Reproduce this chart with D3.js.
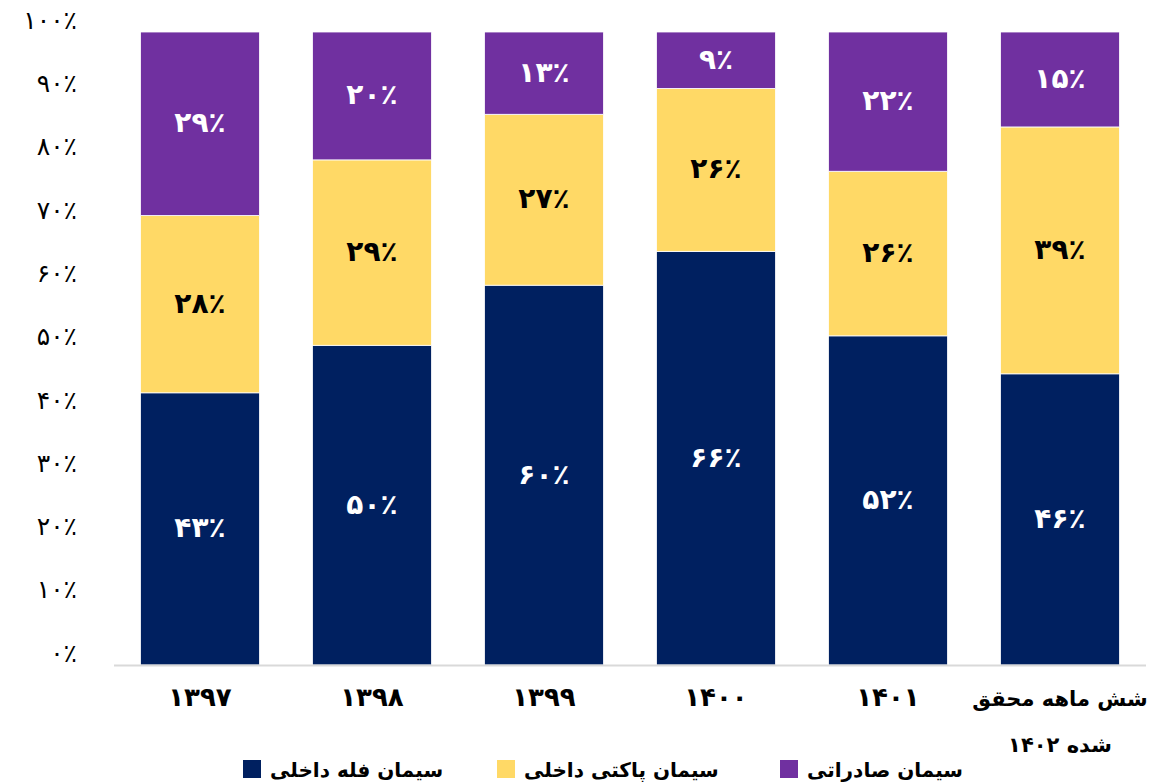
<!DOCTYPE html>
<html lang="fa">
<head>
<meta charset="utf-8">
<title>سهم سیمان</title>
<script src="https://d3js.org/d3.v7.min.js"></script>
<style>
  body { margin: 0; background: #fff; }
  text { font-family: "DejaVu Sans", sans-serif; }
</style>
</head>
<body>
<div id="chart"></div>
<script>
(function () {
    var categories = ["1397", "1398", "1399", "1400", "1401", "شش ماهه محقق\nشده 1402"];
    var seriesNames = ["سیمان فله داخلی", "سیمان پاکتی داخلی", "سیمان صادراتی"];
    var bulkDomestic = [43, 50, 60, 66, 52, 46];
    var bagDomestic = [28, 29, 27, 26, 26, 39];
    var exportCement = [29, 20, 13, 9, 22, 15];
    var yTicks = [0, 10, 20, 30, 40, 50, 60, 70, 80, 90, 100];
    var colors = ["#002060", "#FFD966", "#7030A0"];
    var labelColors = ["#fff", "#000", "#fff"];

    var width = 1159, height = 782;
    var top = 32, bottom = 665;

    // digits to Persian
    function fa(s) {
        return String(s).replace(/\d/g, function (d) { return "۰۱۲۳۴۵۶۷۸۹"[+d]; });
    }

    var rows = categories.map(function (c, i) {
        var t = bulkDomestic[i] + bagDomestic[i] + exportCement[i];
        return { cat: c, s0: bulkDomestic[i], s1: bagDomestic[i], s2: exportCement[i], total: t };
    });

    var stack = d3.stack()
        .keys(["s0", "s1", "s2"])
        .value(function (d, k) { return d[k] / d.total * 100; });
    var layers = stack(rows);

    var x = d3.scaleBand().domain(categories).range([114, 1146])
        .paddingInner(0.308).paddingOuter(0.154);
    var y = d3.scaleLinear().domain([0, 100]).range([bottom, top]);

    var svg = d3.select("#chart").append("svg")
        .attr("width", width).attr("height", height);

    // y axis
    var yAxis = svg.append("g")
        .attr("transform", "translate(114,0)")
        .call(d3.axisLeft(y).tickValues(yTicks).tickSize(0).tickPadding(37)
            .tickFormat(function (d) { return fa(d) + "٪"; }));
    yAxis.select(".domain").remove();
    yAxis.selectAll("text").style("font-size", "25px").attr("fill", "#000")
        .attr("dy", "-0.15em");

    // bars
    var g = svg.append("g");
    layers.forEach(function (layer, li) {
        g.selectAll(".bar" + li)
            .data(layer)
            .enter().append("rect")
            .attr("x", function (d) { return x(d.data.cat); })
            .attr("y", function (d) { return y(d[1]); })
            .attr("width", x.bandwidth())
            .attr("height", function (d) { return y(d[0]) - y(d[1]); })
            .attr("fill", colors[li])
            .attr("stroke", "#fff")
            .attr("stroke-width", 0.8);

        g.selectAll(".lab" + li)
            .data(layer)
            .enter().append("text")
            .attr("x", function (d) { return x(d.data.cat) + x.bandwidth() / 2; })
            .attr("y", function (d) { return (y(d[0]) + y(d[1])) / 2; })
            .attr("dy", "0.3em")
            .attr("text-anchor", "middle")
            .style("font-size", "28px")
            .style("font-weight", "bold")
            .attr("fill", labelColors[li])
            .text(function (d) { return fa(d.data["s" + li]) + "٪"; });
    });

    // baseline
    svg.append("line")
        .attr("x1", 114).attr("x2", 1146)
        .attr("y1", bottom + 0.5).attr("y2", bottom + 0.5)
        .attr("stroke", "#d9d9d9").attr("stroke-width", 2);

    // x labels
    var xl = svg.append("g");
    categories.forEach(function (c) {
        var lines = c.split("\n");
        var t = xl.append("text")
            .attr("text-anchor", "middle")
            .attr("direction", "rtl")
            .style("font-size", lines.length > 1 ? "21px" : "26px")
            .style("font-weight", "bold")
            .attr("fill", "#000");
        lines.forEach(function (ln, i) {
            t.append("tspan")
                .attr("x", x(c) + x.bandwidth() / 2)
                .attr("y", 706 + i * 46)
                .text(fa(ln));
        });
    });

    // legend
    var legendX = [243, 497, 780];
    var lg = svg.append("g");
    seriesNames.forEach(function (n, i) {
        lg.append("rect")
            .attr("x", legendX[i]).attr("y", 760)
            .attr("width", 18).attr("height", 18)
            .attr("fill", colors[i]);
        lg.append("text")
            .attr("x", legendX[i] + 27).attr("y", 777)
            .style("font-size", "20px")
            .style("font-weight", "bold")
            .attr("fill", "#000")
            .text(n);
    });
}());
</script>
</body>
</html>
